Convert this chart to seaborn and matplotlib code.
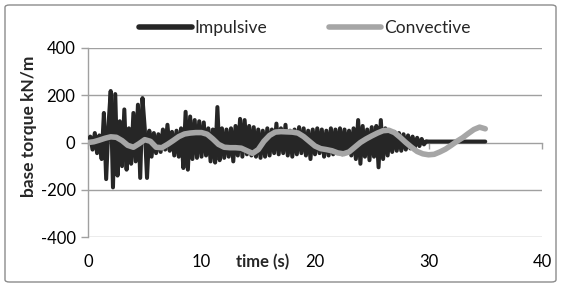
import numpy as np
import pandas as pd
import matplotlib
matplotlib.use("Agg")
import matplotlib.pyplot as plt
import seaborn as sns
from matplotlib.patches import FancyBboxPatch

# ---- data ----
imp_dt = 0.2
impulsive = [
    0, 25, -30, 40, -45, 30, -70, 125, -155, 70,
    218, -190, 205, -140, 90, -100, 140, -115, 60, -90,
    125, -80, 160, -150, 188, 60, -150, 50, -60, 40,
    -45, 35, -40, 55, -30, 75, -35, 45, -55, 50,
    -60, 60, -108, 130, -115, 110, -70, 95, -65, 90,
    -60, 85, -55, 60, -80, 55, -85, 150, -75, 60,
    -65, 55, -60, 60, -80, 70, -55, 100, -60, 95,
    -50, 70, -55, 65, -60, 55, -65, 50, -60, 60,
    -55, 55, -45, 80, -50, 60, -45, 75, -55, 50,
    -60, 55, -50, 65, -45, 60, -55, 50, -70, 55,
    -50, 60, -45, 55, -60, 50, -55, 60, -50, 55,
    -45, 60, -50, 55, -45, 50, -55, 60, -70, 95,
    -90, 70, -60, 55, -75, 65, -60, 70, -105, 95,
    -70, 60, -55, 50, -40, 45, -35, 40, -35, 35,
    -30, 30, -25, 25, -20, 20, -15, 15, -8, 5,
    4, 4, 4, 4, 4, 4, 4, 4, 4, 4,
    4, 4, 4, 4, 4, 4, 4, 4, 4, 4,
    4, 4, 4, 4, 4, 4,
]
imp_time = np.arange(len(impulsive)) * imp_dt

conv_time = [
    0, 0.5, 1.0, 1.5, 2.0, 2.5, 3.0, 3.5, 4.0, 4.5,
    5.0, 5.5, 6.0, 6.5, 7.0, 7.5, 8.0, 8.5, 9.0, 9.5,
    10.0, 10.5, 11.0, 11.5, 12.0, 12.5, 13.0, 13.5, 14.0, 14.5,
    15.0, 15.5, 16.0, 16.5, 17.0, 17.5, 18.0, 18.5, 19.0, 19.5,
    20.0, 20.5, 21.0, 21.5, 22.0, 22.5, 23.0, 23.5, 24.0, 24.5,
    25.0, 25.5, 26.0, 26.5, 27.0, 27.5, 28.0, 28.5, 29.0, 29.5,
    30.0, 30.5, 31.0, 31.5, 32.0, 32.5, 33.0, 33.5, 34.0, 34.5, 35.0,
]
convective = [
    0, 3, 10, 18, 24, 22, 8, -12, -20, -5,
    12, 5, -20, -22, -8, 8, 25, 36, 40, 42,
    42, 35, 15, -8, -20, -22, -22, -24, -35, -46,
    -30, 5, 30, 44, 46, 45, 44, 40, 25, 5,
    -15, -26, -30, -35, -44, -48, -40, -20, 0, 15,
    28, 40, 50, 52, 42, 22, 0, -20, -38, -48,
    -52, -50, -40, -28, -12, 5, 20, 38, 55, 65, 58,
]

x_ticks = [0, 10, 20, 30, 40]
y_ticks = [-400, -200, 0, 200, 400]
series_names = ["Impulsive", "Convective"]

# ---- plot ----
sns.set_theme(style="white")
plt.rcParams['font.family'] = ['Lato', 'DejaVu Sans']
plt.rcParams['axes.unicode_minus'] = False

fig = plt.figure(figsize=(5.61, 2.87), dpi=100)
ax = fig.add_axes([88 / 561, 1 - 237 / 287, (542 - 88) / 561, (237 - 48) / 287])

df_imp = pd.DataFrame({"t": imp_time, "v": impulsive})
df_conv = pd.DataFrame({"t": conv_time, "v": convective})

grid_c = "#A0A0A0"
for yv in y_ticks:
    if yv != 0:
        ax.axhline(yv, color=grid_c, lw=1.0, zorder=0)

sns.lineplot(data=df_imp, x="t", y="v", ax=ax, color="#262626", lw=2.9,
             sort=False, label=series_names[0], zorder=3,
             solid_joinstyle="round", solid_capstyle="round")
sns.lineplot(data=df_conv, x="t", y="v", ax=ax, color="#A6A6A6", lw=4.0,
             sort=False, label=series_names[1], zorder=4,
             solid_capstyle="round", solid_joinstyle="round")

ax.set_xlim(0, 40)
ax.set_ylim(-400, 400)
ax.set_xticks(x_ticks)
ax.set_yticks(y_ticks)
ax.set_xlabel("")
ax.set_ylabel("")

fs = 12
for s in ["top", "right"]:
    ax.spines[s].set_visible(False)
ax.spines["left"].set_color(grid_c)
ax.spines["left"].set_linewidth(1.0)
ax.spines["bottom"].set_position(("data", 0))
ax.spines["bottom"].set_color(grid_c)
ax.spines["bottom"].set_linewidth(1.0)
ax.spines["bottom"].set_zorder(2)

ax.tick_params(axis="y", direction="out", length=5, width=1.0, color=grid_c,
               labelsize=fs, labelcolor="#000000", pad=4, left=True)
ax.tick_params(axis="x", direction="out", length=4, width=1.0, color=grid_c,
               labelsize=fs, labelcolor="#000000", pad=76, bottom=True)

leg = ax.legend(loc="upper center", bbox_to_anchor=(305 / 561, 1.0), bbox_transform=fig.transFigure,
                ncol=2, frameon=False, fontsize=12.5, handlelength=3.0,
                handletextpad=0.15, columnspacing=3.6, borderaxespad=0.75)
for h, c in zip(leg.get_lines(), ["#262626", "#A6A6A6"]):
    h.set_linewidth(4.0)
    h.set_color(c)
    h.set_solid_capstyle("round")

fig.text(263 / 561, 1 - 262 / 287, "time (s)", ha="center", va="center",
         fontsize=fs, fontweight="bold")
fig.text(29 / 561, 1 - 126 / 287, "base torque kN/m", ha="center", va="center",
         rotation=90, fontsize=12.5, fontweight="bold")

border = FancyBboxPatch((5 / 561, 5 / 287), 551 / 561, 277 / 287,
                        boxstyle="round,pad=0,rounding_size=0.008",
                        transform=fig.transFigure, fill=False,
                        edgecolor="#8C8C8C", lw=1.0)
fig.patches.append(border)

fig.savefig("out.png", dpi=100)
